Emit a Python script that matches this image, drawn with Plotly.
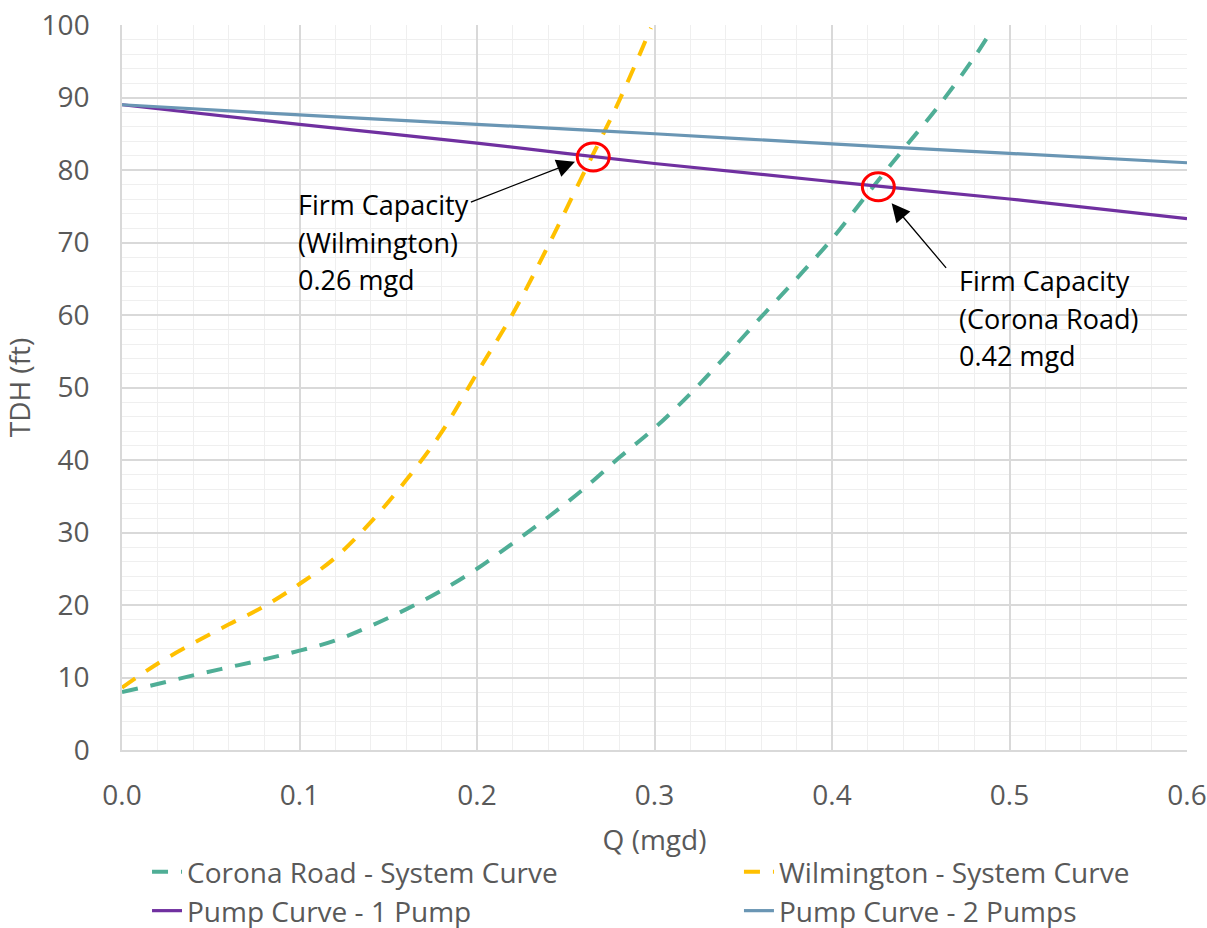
import plotly.graph_objects as go

# ---- data ----
corona_q = [0.00, 0.02, 0.04, 0.06, 0.08, 0.10, 0.12, 0.14, 0.16, 0.18, 0.20, 0.22, 0.24,
            0.26, 0.28, 0.30, 0.32, 0.34, 0.36, 0.38, 0.40, 0.42, 0.44, 0.46, 0.48, 0.49]
corona_h = [8.0, 9.1, 10.3, 11.4, 12.5, 13.7, 15.1, 17.1, 19.4, 22.0, 25.0, 28.5, 32.1,
            36.0, 40.3, 44.4, 49.1, 54.3, 59.7, 65.0, 70.5, 76.7, 82.8, 88.8, 95.5, 99.3]

wilm_q = [0.00, 0.02, 0.04, 0.06, 0.08, 0.10, 0.12, 0.14, 0.16, 0.18, 0.20, 0.22, 0.24,
          0.26, 0.28, 0.298]
wilm_h = [8.6, 11.9, 14.7, 17.3, 19.8, 22.9, 26.5, 31.4, 37.2, 43.8, 52.0, 60.1, 69.5,
          79.5, 89.5, 99.6]

pump_q = [0.0, 0.1, 0.2, 0.3, 0.4, 0.5, 0.6]
pump1_h = [89.0, 86.3, 83.7, 80.9, 78.4, 76.0, 73.3]
pump2_h = [89.0, 87.6, 86.3, 85.0, 83.6, 82.3, 81.0]

# operating points (circled)
op_q = [0.2655, 0.4261]
op_h = [81.8, 77.7]

label_lines = [["Firm Capacity", "(Wilmington)", "0.26 mgd"],
               ["Firm Capacity", "(Corona Road)", "0.42 mgd"]]
label_q = [0.098, 0.4704]
label_h = [75.2, 64.7]          # centre of first line
arrow_head_q = [0.2552, 0.4336]
arrow_head_h = [81.15, 75.4]
arrow_tail_q = [0.1957, 0.465]
arrow_tail_h = [75.5, 66.3]

FONT = "Open Sans"
TICK_COLOR = "#595959"
FS = 28
LINE_STEP = 5.17   # label line spacing in TDH units (~37.5 px)

fig = go.Figure()
fig.add_trace(go.Scatter(x=corona_q, y=corona_h, mode="lines", line_shape="spline",
                         name="Corona Road - System Curve",
                         line=dict(color="#4FAE96", width=4, dash="16px,13px"),
                         legend="legend"))
fig.add_trace(go.Scatter(x=wilm_q, y=wilm_h, mode="lines", line_shape="spline",
                         name="Wilmington - System Curve",
                         line=dict(color="#FFC000", width=4, dash="16px,13px"),
                         legend="legend2"))
fig.add_trace(go.Scatter(x=pump_q, y=pump1_h, mode="lines", line_shape="spline",
                         name="Pump Curve - 1 Pump",
                         line=dict(color="#7030A0", width=3.2),
                         legend="legend3"))
fig.add_trace(go.Scatter(x=pump_q, y=pump2_h, mode="lines", line_shape="spline",
                         name="Pump Curve - 2 Pumps",
                         line=dict(color="#6A96B4", width=3.2),
                         legend="legend4"))

# circles
rx, ry = 0.009, 1.93
for q, h in zip(op_q, op_h):
    fig.add_shape(type="circle", xref="x", yref="y",
                  x0=q - rx, x1=q + rx, y0=h - ry, y1=h + ry,
                  line=dict(color="#FF0000", width=3))

# arrows
for hq, hh, tq, th in zip(arrow_head_q, arrow_head_h, arrow_tail_q, arrow_tail_h):
    fig.add_annotation(x=hq, y=hh, ax=tq, ay=th, xref="x", yref="y", axref="x", ayref="y",
                       text="", showarrow=True, arrowhead=2, arrowsize=2.8,
                       arrowwidth=1.3, arrowcolor="black")
# labels
for lines, q, h in zip(label_lines, label_q, label_h):
    for i, t in enumerate(lines):
        fig.add_annotation(x=q, y=h - i * LINE_STEP, xref="x", yref="y", text=t,
                           showarrow=False, xanchor="left", yanchor="middle", align="left",
                           font=dict(family=FONT, size=27, color="black"))


def leg(x, y):
    return dict(orientation="h", x=x, y=y, xanchor="left", yanchor="middle",
                bgcolor="rgba(0,0,0,0)",
                font=dict(family=FONT, size=FS, color=TICK_COLOR))


fig.update_layout(
    width=1207, height=928,
    margin=dict(l=122, r=20, t=25, b=178, autoexpand=False),
    paper_bgcolor="white", plot_bgcolor="white",
    font=dict(family=FONT, size=FS, color=TICK_COLOR),
    legend=leg(0.0235, -0.1683),
    legend2=leg(0.5793, -0.1683),
    legend3=leg(0.0235, -0.2220),
    legend4=leg(0.5793, -0.2220),
    showlegend=True,
)
fig.update_xaxes(range=[0, 0.6], dtick=0.1, tick0=0, tickformat=".1f",
                 showgrid=True, gridcolor="#D9D9D9", gridwidth=1.5,
                 minor=dict(dtick=0.02, showgrid=True, gridcolor="#EFEFEF", gridwidth=1.2),
                 zeroline=False, showline=True, linecolor="#D9D9D9", linewidth=1.5,
                 ticks="", ticklabelstandoff=20,
                 tickfont=dict(family=FONT, size=FS, color=TICK_COLOR),
                 title=dict(text="Q (mgd)", standoff=18,
                            font=dict(family=FONT, size=FS, color=TICK_COLOR)))
fig.update_yaxes(range=[0, 100], dtick=10, tick0=0,
                 showgrid=True, gridcolor="#D9D9D9", gridwidth=1.5,
                 minor=dict(dtick=2, showgrid=True, gridcolor="#EFEFEF", gridwidth=1.2),
                 zeroline=False, showline=True, linecolor="#D9D9D9", linewidth=1.5,
                 ticks="", ticklabelstandoff=25,
                 tickfont=dict(family=FONT, size=FS, color=TICK_COLOR),
                 title=dict(text="TDH (ft)", standoff=19,
                            font=dict(family=FONT, size=FS, color=TICK_COLOR)))

fig.write_html("out.html",
               config={"displayModeBar": False},
               post_script="document.body.style.margin='0px';"
                           "document.body.style.overflow='hidden';")
